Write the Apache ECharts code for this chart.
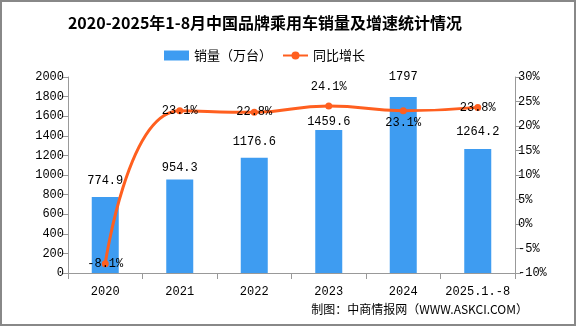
<!DOCTYPE html>
<html>
<head>
<meta charset="utf-8">
<script src="https://cdn.jsdelivr.net/npm/echarts@6/dist/echarts.min.js"></script>
<style>
  html, body { margin: 0; padding: 0; background: #fff; }
  #chart { width: 576px; height: 327px; }
</style>
</head>
<body>
<div id="chart"></div>
<script>
// 中国品牌乘用车 1-8月销量（万台）与同比增长（%）
const categories = ['2020', '2021', '2022', '2023', '2024', '2025.1.-8'];
const salesValues = [774.9, 954.3, 1176.6, 1459.6, 1797, 1264.2];
const growthValues = [-8.1, 23.1, 22.8, 24.1, 23.1, 23.8];
const leftTicks = [0, 2000, 200];     // min, max, interval
const rightTicks = [-10, 30, 5];      // min, max, interval (%)

// label placement per point
const salesLabelDistance = [10, 6, 10, 2, 14, 11];
const growthLabelPos = ['inside', 'inside', 'inside', 'top', 'bottom', 'inside'];

const monoFont = '"Liberation Mono", "DejaVu Sans Mono", monospace';
const cjkFont = '"Noto Sans CJK SC", sans-serif';
const barColor = '#3e9cf1';
const lineColor = '#ff5f1f';
const axisColor = '#999999';

const chart = echarts.init(document.getElementById('chart'), null, { renderer: 'canvas' });

chart.setOption({
  animation: false,
  backgroundColor: '#ffffff',
  title: {
    text: '2020-2025年1-8月中国品牌乘用车销量及增速统计情况',
    left: 260,
    textAlign: 'center',
    top: 10,
    textStyle: { fontFamily: cjkFont, fontWeight: 'bold', fontSize: 16, color: '#000' }
  },
  legend: {
    top: 44,
    left: 159,
    itemGap: 10,
    itemWidth: 25,
    itemHeight: 10,
    textStyle: { fontFamily: cjkFont, fontSize: 13, color: '#000' },
    data: [
      { name: '销量（万台）', icon: 'rect' },
      { name: '同比增长' }
    ]
  },
  grid: { left: 68, right: 61, top: 77, bottom: 54 },
  xAxis: {
    type: 'category',
    data: categories,
    axisLine: { lineStyle: { color: axisColor } },
    axisTick: { show: true, length: 6, interval: 0, lineStyle: { color: axisColor } },
    axisLabel: { interval: 0, margin: 13, fontFamily: monoFont, fontSize: 12, color: '#000' }
  },
  yAxis: [
    {
      type: 'value',
      min: leftTicks[0], max: leftTicks[1], interval: leftTicks[2],
      axisLine: { show: true, lineStyle: { color: axisColor } },
      axisTick: { show: true, length: 6, lineStyle: { color: axisColor } },
      splitLine: { show: false },
      axisLabel: {
        margin: 4, fontFamily: monoFont, fontSize: 12, color: '#000',
        formatter: v => String(v)
      }
    },
    {
      type: 'value',
      min: rightTicks[0], max: rightTicks[1], interval: rightTicks[2],
      position: 'right',
      axisLine: { show: true, lineStyle: { color: axisColor } },
      axisTick: { show: true, length: 6, lineStyle: { color: axisColor } },
      splitLine: { show: false },
      axisLabel: { margin: 3, fontFamily: monoFont, fontSize: 12, color: '#000', formatter: v => v + '%' }
    }
  ],
  graphic: [
    {
      type: 'rect',
      shape: { x: 1, y: 1, width: 574, height: 324 },
      style: { fill: 'none', stroke: '#888888', lineWidth: 2 },
      silent: true
    },
    {
      type: 'text',
      right: 48,
      top: 303,
      style: { text: '制图：中商情报网（WWW.ASKCI.COM）', font: '12px ' + cjkFont, fill: '#000' }
    }
  ],
  series: [
    {
      name: '销量（万台）',
      type: 'bar',
      yAxisIndex: 0,
      barWidth: 27,
      itemStyle: { color: barColor },
      data: salesValues.map((v, i) => ({
        value: v,
        label: { show: true, position: 'top', distance: salesLabelDistance[i] }
      })),
      label: { fontFamily: monoFont, fontSize: 12, color: '#000', formatter: p => String(p.value) }
    },
    {
      name: '同比增长',
      type: 'line',
      yAxisIndex: 1,
      smooth: true,
      symbol: 'circle',
      symbolSize: 7,
      itemStyle: { color: lineColor },
      lineStyle: { color: lineColor, width: 3 },
      data: growthValues.map((v, i) => ({
        value: v,
        label: {
          show: true,
          position: growthLabelPos[i],
          distance: growthLabelPos[i] === 'top' ? 10 : 3
        }
      })),
      label: { fontFamily: monoFont, fontSize: 12, color: '#000', formatter: p => p.value + '%' }
    }
  ]
});
</script>
</body>
</html>
